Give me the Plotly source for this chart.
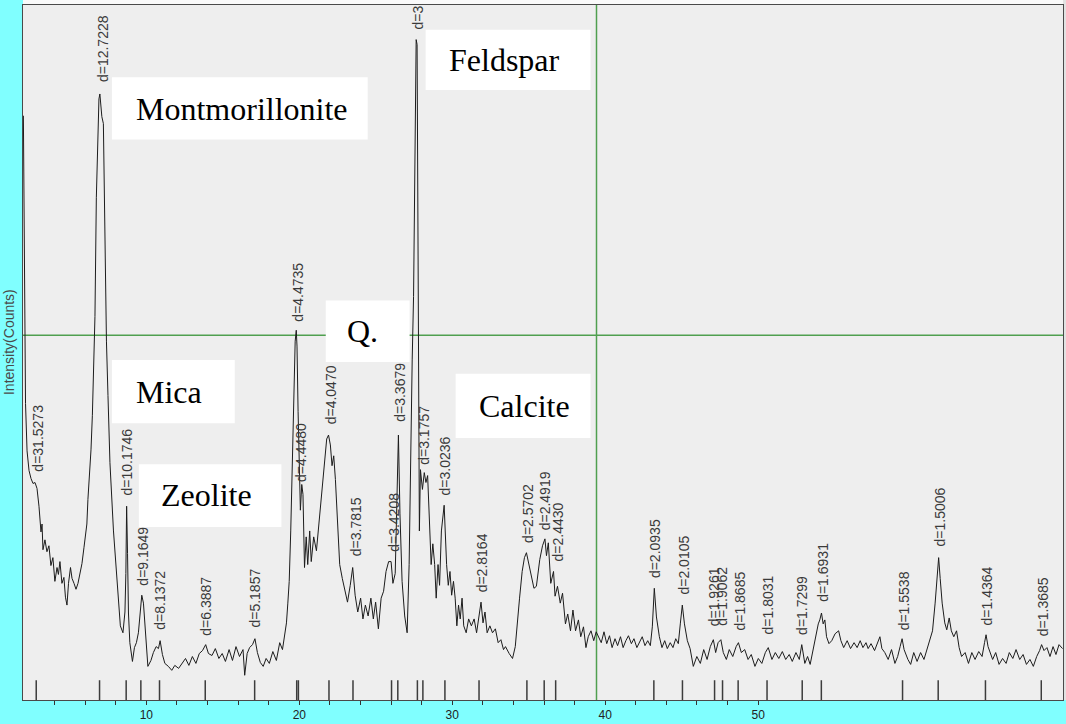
import plotly.graph_objects as go

# ---------------- data ----------------
two_theta = [
    1.96, 2.03, 2.10, 2.20, 2.33, 2.46, 2.59, 2.72, 2.85, 2.98, 3.11, 3.18, 3.24, 3.37, 3.50, 3.63, 3.76, 3.89,
    4.02, 4.16, 4.25, 4.35, 4.48, 4.61, 4.71, 4.81, 4.91, 5.04, 5.14, 5.27, 5.40, 5.53, 5.66, 5.79, 5.92, 6.02,
    6.11, 6.18, 6.28, 6.38, 6.47, 6.57, 6.64, 6.73, 6.83, 6.90, 6.96, 7.03, 7.09, 7.19, 7.26, 7.32, 7.39, 7.49,
    7.62, 7.85, 8.07, 8.30, 8.47, 8.60, 8.66, 8.71, 8.77, 8.83, 8.92, 9.09, 9.22, 9.35, 9.48, 9.61, 9.70, 9.81,
    9.90, 9.99, 10.10, 10.30, 10.46, 10.64, 10.79, 10.90, 11.05, 11.21, 11.44, 11.66, 11.86, 12.11, 12.32, 12.56,
    12.78, 13.01, 13.24, 13.46, 13.67, 13.88, 14.06, 14.29, 14.51, 14.74, 14.96, 15.17, 15.41, 15.63, 15.86,
    16.09, 16.32, 16.43, 16.59, 16.75, 16.94, 17.10, 17.26, 17.45, 17.64, 17.83, 18.04, 18.27, 18.50, 18.72,
    18.90, 19.05, 19.16, 19.25, 19.34, 19.44, 19.55, 19.66, 19.73, 19.80, 19.85, 19.92, 20.00, 20.07, 20.16,
    20.24, 20.34, 20.45, 20.55, 20.68, 20.78, 20.94, 21.12, 21.31, 21.46, 21.62, 21.79, 21.91, 22.03, 22.14,
    22.25, 22.36, 22.48, 22.64, 22.81, 22.99, 23.15, 23.33, 23.49, 23.65, 23.82, 24.01, 24.16, 24.32, 24.50,
    24.68, 24.84, 24.99, 25.17, 25.35, 25.51, 25.67, 25.84, 26.00, 26.12, 26.27, 26.40, 26.48, 26.58, 26.72,
    26.89, 27.05, 27.18, 27.28, 27.38, 27.47, 27.54, 27.64, 27.70, 27.77, 27.81, 27.85, 27.92, 28.05, 28.17,
    28.28, 28.39, 28.51, 28.62, 28.73, 28.85, 28.95, 29.07, 29.17, 29.29, 29.47, 29.56, 29.63, 29.74, 29.85,
    29.96, 30.08, 30.19, 30.30, 30.41, 30.52, 30.64, 30.75, 30.91, 31.07, 31.25, 31.43, 31.59, 31.74, 31.88,
    32.01, 32.14, 32.28, 32.46, 32.63, 32.82, 33.00, 33.18, 33.35, 33.48, 33.72, 33.94, 34.12, 34.24, 34.40,
    34.57, 34.72, 34.85, 35.01, 35.18, 35.34, 35.50, 35.72, 35.90, 36.06, 36.16, 36.28, 36.44, 36.62, 36.72,
    36.88, 37.06, 37.21, 37.40, 37.55, 37.73, 37.89, 38.06, 38.25, 38.40, 38.58, 38.74, 38.89, 39.07, 39.25,
    39.41, 39.58, 39.74, 39.92, 40.10, 40.28, 40.45, 40.64, 40.81, 41.00, 41.17, 41.35, 41.52, 41.71, 41.88,
    42.07, 42.24, 42.42, 42.60, 42.78, 42.95, 43.08, 43.21, 43.35, 43.54, 43.71, 43.89, 44.06, 44.25, 44.43,
    44.61, 44.78, 44.91, 45.04, 45.18, 45.37, 45.55, 45.76, 45.99, 46.22, 46.44, 46.66, 46.87, 47.07, 47.22,
    47.38, 47.56, 47.72, 47.92, 48.11, 48.34, 48.56, 48.71, 48.90, 49.12, 49.34, 49.55, 49.79, 50.01, 50.24,
    50.47, 50.66, 50.90, 51.12, 51.35, 51.58, 51.80, 52.03, 52.23, 52.47, 52.69, 52.85, 53.05, 53.23, 53.40,
    53.59, 53.77, 53.93, 54.03, 54.14, 54.25, 54.36, 54.47, 54.63, 54.81, 55.03, 55.26, 55.41, 55.59, 55.82,
    56.04, 56.27, 56.47, 56.67, 56.85, 57.05, 57.19, 57.38, 57.61, 57.78, 57.96, 58.09, 58.28, 58.50, 58.72,
    58.94, 59.12, 59.28, 59.41, 59.54, 59.79, 59.97, 60.17, 60.39, 60.62, 60.84, 61.07, 61.22, 61.40, 61.57,
    61.70, 61.80, 61.90, 62.03, 62.20, 62.33, 62.49, 62.63, 62.79, 62.97, 63.14, 63.30, 63.53, 63.75, 63.97,
    64.18, 64.42, 64.64, 64.80, 64.90, 65.03, 65.19, 65.33, 65.53, 65.75, 65.98, 66.21, 66.42, 66.65, 66.86,
    67.10, 67.32, 67.54, 67.77, 67.99, 68.21, 68.40, 68.53, 68.69, 68.88, 69.08, 69.28, 69.47, 69.67, 69.90,
]
intensity = [
    591, 378, 300, 252, 232, 224, 219, 220, 214, 196, 170, 178, 152, 162, 150, 156, 136, 144,
    120, 134, 127, 140, 118, 124, 104, 96, 118, 134, 123, 118, 112, 118, 128, 138, 154, 168,
    178, 203, 228, 253, 288, 348, 388, 508, 583, 608, 613, 603, 590, 583, 508, 418, 363, 308,
    240, 171, 120, 75, 68, 89, 128, 196, 148, 88, 58, 39, 53, 58, 68, 93, 106, 98,
    78, 51, 34, 40, 48, 54, 52, 60, 46, 37, 34, 30, 35, 32, 37, 42,
    35, 44, 37, 47, 50, 56, 47, 45, 52, 42, 47, 39, 51, 40, 54,
    44, 51, 25, 47, 53, 56, 62, 48, 38, 34, 42, 37, 49, 40, 58,
    51, 66, 78, 98, 120, 171, 240, 326, 363, 374, 358, 292, 240, 192, 218,
    208, 134, 165, 137, 171, 140, 165, 151, 185, 209, 240, 264, 268, 258, 237,
    247, 223, 185, 137, 123, 109, 99, 116, 134, 106, 89, 103, 82, 96, 85,
    103, 82, 99, 72, 103, 110, 130, 140, 140, 118, 128, 223, 268, 189, 120,
    85, 68, 137, 258, 344, 408, 558, 668, 663, 408, 240, 171, 233, 213, 230,
    220, 227, 178, 137, 158, 137, 103, 137, 116, 171, 197, 165, 137, 116, 130,
    106, 120, 103, 75, 96, 82, 103, 75, 68, 82, 75, 82, 68, 85, 99,
    78, 89, 68, 75, 68, 72, 58, 61, 51, 54, 47, 42, 54, 78, 103,
    130, 144, 149, 137, 123, 113, 115, 142, 156, 163, 146, 159, 118, 130, 105,
    115, 98, 108, 77, 87, 70, 91, 70, 81, 64, 74, 53, 64, 70, 60,
    69, 64, 58, 69, 57, 65, 53, 62, 55, 64, 53, 60, 65, 57, 62,
    53, 58, 64, 55, 60, 55, 74, 113, 84, 64, 53, 60, 52, 58, 53,
    62, 57, 77, 96, 77, 60, 52, 34, 44, 37, 51, 41, 54, 61, 48,
    58, 61, 48, 41, 51, 44, 54, 58, 48, 51, 41, 46, 34, 42, 37,
    48, 53, 41, 48, 42, 49, 41, 46, 39, 48, 41, 56, 37, 44, 36,
    51, 65, 77, 81, 88, 77, 81, 64, 57, 60, 67, 70, 60, 53, 60,
    52, 58, 53, 60, 53, 58, 52, 57, 50, 57, 64, 52, 48, 41, 51,
    37, 44, 54, 62, 51, 41, 36, 48, 39, 48, 41, 54, 61, 70, 98,
    130, 144, 123, 98, 78, 71, 83, 70, 64, 70, 53, 44, 48, 37, 48,
    41, 49, 44, 58, 66, 54, 46, 41, 48, 36, 42, 37, 48, 42, 51,
    41, 46, 36, 41, 34, 44, 50, 56, 50, 53, 44, 54, 46, 56, 52,
]

# identified reflections (2-theta of the marker ticks on the baseline)
peak_2theta = [2.80, 6.94, 8.68, 9.64, 10.86, 13.85, 17.08, 19.83, 19.94, 21.94, 23.51, 26.03, 26.44,
               27.72, 28.08, 29.52, 31.75, 34.88, 36.01, 36.76, 43.18, 45.05, 47.15, 47.67, 48.69,
               50.58, 52.88, 54.13, 59.44, 61.77, 64.86, 68.51]

# d-spacing labels
d_text = ["d=31.5273", "d=12.7228", "d=10.1746", "d=9.1649", "d=8.1372", "d=6.3887", "d=5.1857",
          "d=4.4735", "d=4.4480", "d=4.0470", "d=3.7815", "d=3.4208", "d=3.3679", "d=3",
          "d=3.1757", "d=3.0236", "d=2.8164", "d=2.5702", "d=2.4919", "d=2.4430", "d=2.0935",
          "d=2.0105", "d=1.9261", "d=1.9062", "d=1.8685", "d=1.8031", "d=1.7299", "d=1.6931",
          "d=1.5538", "d=1.5006", "d=1.4364", "d=1.3685"]
d_label_2theta = [2.95, 7.13, 8.71, 9.77, 10.92, 13.93, 17.12, 19.90, 20.11, 22.05, 23.71, 26.23, 26.59,
                  27.75, 28.19, 29.50, 31.92, 34.99, 36.12, 36.94, 43.27, 45.14, 47.11, 47.66, 48.83,
                  50.66, 52.91, 54.19, 59.54, 61.90, 64.97, 68.62]
d_label_base = [230, 624, 206, 115, 70, 64, 72, 382, 220, 278, 144, 149, 280, 677,
                237, 206, 108, 158, 171, 139, 122, 106, 74, 74, 69, 65, 65, 98,
                69, 154, 74, 64]

# mineral phase callouts: name, box (2theta0, 2theta1, I0, I1), text start 2theta, text centre intensity
phase_names = ["Montmorillonite", "Feldspar", "Q.", "Mica", "Zeolite", "Calcite"]
phase_boxes = [(7.75, 24.47, 567, 630), (28.26, 39.04, 617, 678), (21.73, 27.21, 342, 404),
               (7.75, 15.78, 280, 344), (9.51, 18.83, 175, 238.5), (30.22, 39.04, 265, 330)]
phase_text_pos = [(9.16, 598), (29.67, 647.5), (22.97, 373), (9.16, 312), (10.82, 207), (31.59, 297.5)]

cursor_2theta = 39.43
cursor_intensity = 369

tick_vals = list(range(4, 51, 2))
tick_text = [str(v) if v % 10 == 0 else "" for v in tick_vals]

# ---------------- figure ----------------
fig = go.Figure()

fig.add_trace(go.Scatter(x=two_theta, y=intensity, mode="lines",
                         line=dict(color="#1c1c1c", width=1), hoverinfo="skip"))

mx, my = [], []
for p in peak_2theta:
    mx += [p, p, None]
    my += [0, 20, None]
fig.add_trace(go.Scatter(x=mx, y=my, mode="lines",
                         line=dict(color="#3c3c3c", width=1.5), hoverinfo="skip"))

shapes = []
# cursor cross-hair
shapes.append(dict(type="line", xref="x", yref="paper", x0=cursor_2theta, x1=cursor_2theta, y0=0, y1=1,
                   line=dict(color="#4f9f4f", width=1.5), layer="below"))
shapes.append(dict(type="line", xref="paper", yref="y", x0=0, x1=1, y0=cursor_intensity, y1=cursor_intensity,
                   line=dict(color="#4f9f4f", width=1.5), layer="below"))
# white strip above the plot frame and light strip right of it
shapes.append(dict(type="rect", xref="paper", yref="paper", x0=0, x1=1.01, y0=1.0, y1=1.05,
                   fillcolor="#FAFAFA", line=dict(width=0), layer="below"))
shapes.append(dict(type="rect", xref="paper", yref="paper", x0=1.0, x1=1.01, y0=0, y1=1.05,
                   fillcolor="#E2E2E2", line=dict(width=0), layer="below"))
# white label boxes
for (x0, x1, y0, y1) in phase_boxes:
    shapes.append(dict(type="rect", xref="x", yref="y", x0=x0, x1=x1, y0=y0, y1=y1,
                       fillcolor="white", line=dict(width=0), layer="above"))

annotations = []
for name, (tx, ty) in zip(phase_names, phase_text_pos):
    annotations.append(dict(x=tx, y=ty, xref="x", yref="y", text=name, showarrow=False,
                            xanchor="left", yanchor="middle",
                            font=dict(family="Liberation Serif, Times New Roman, serif", size=32, color="black")))
for t, x, y in zip(d_text, d_label_2theta, d_label_base):
    annotations.append(dict(x=x, y=y, xref="x", yref="y", text=t, showarrow=False, textangle=-90,
                            xanchor="center", yanchor="bottom", borderpad=0,
                            font=dict(family="Liberation Sans, Arial, sans-serif", size=14, color="#3a3a3a")))
annotations.append(dict(x=-0.0135, y=0.515, xref="paper", yref="paper", text="Intensity(Counts)",
                        showarrow=False, textangle=-90, xanchor="center", yanchor="middle",
                        font=dict(family="Liberation Sans, Arial, sans-serif", size=14, color="#4a4a4a")))

fig.update_layout(
    width=1066, height=724,
    margin=dict(l=23, r=2, t=5, b=16),
    paper_bgcolor="#80FFFF",
    plot_bgcolor="#EEEEEE",
    showlegend=False,
    shapes=shapes,
    annotations=annotations,
    xaxis=dict(range=[1.935, 69.93], showgrid=False, zeroline=False, showline=True, linecolor="#4a4a4a",
               linewidth=1, mirror=True, ticks="outside", ticklen=4, tickwidth=1, tickcolor="#333333",
               tickvals=tick_vals, ticktext=tick_text,
               tickfont=dict(family="Liberation Sans, Arial, sans-serif", size=12, color="#222222")),
    yaxis=dict(range=[0, 703], showgrid=False, zeroline=False, showline=True, linecolor="#4a4a4a",
               linewidth=1, mirror=True, showticklabels=False, ticks=""),
)

fig.write_html("out.html", config={"displayModeBar": False})
